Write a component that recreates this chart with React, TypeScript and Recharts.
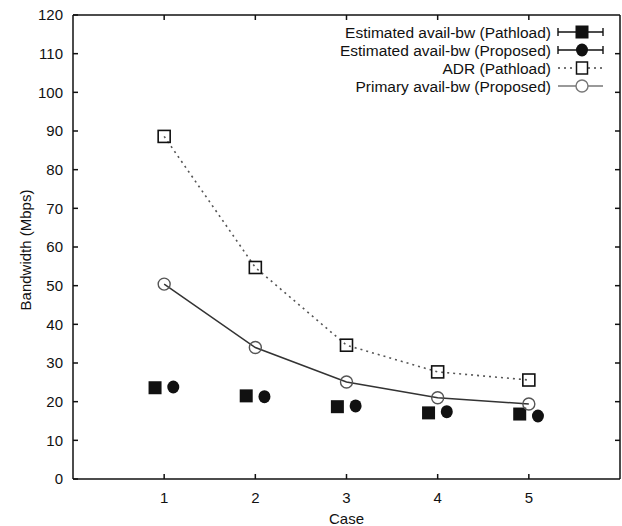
import { ComposedChart, Line, Scatter, XAxis, YAxis, Legend } from 'recharts';

// values
const cases = [1, 2, 3, 4, 5];
const pathloadEstimated = [23.6, 21.5, 18.7, 17.1, 16.8];
const proposedEstimated = [23.8, 21.3, 18.9, 17.4, 16.3];
const adrPathload = [88.6, 54.7, 34.6, 27.7, 25.6];
const primaryProposed = [50.4, 34.0, 25.1, 21.0, 19.4];

const xTicks = [1, 2, 3, 4, 5];
const yTicks = [0, 10, 20, 30, 40, 50, 60, 70, 80, 90, 100, 110, 120];
const xDomain = [0, 6];
const yDomain = [0, 120];
const legendNames = [
  'Estimated avail-bw (Pathload)',
  'Estimated avail-bw (Proposed)',
  'ADR (Pathload)',
  'Primary avail-bw (Proposed)',
];

// the two estimate series sit slightly left/right of each case
const SHIFT = 0.1;

const lineData = cases.map((c, i) => ({ x: c, adr: adrPathload[i], primary: primaryProposed[i] }));
const pathloadData = cases.map((c, i) => ({ x: c - SHIFT, y: pathloadEstimated[i] }));
const proposedData = cases.map((c, i) => ({ x: c + SHIFT, y: proposedEstimated[i] }));

const W = 622;
const H = 526;
const M = { top: 15, right: 2, bottom: 0, left: 0 };
const Y_AXIS_W = 73;
const X_AXIS_H = 47;
const PLOT_LEFT = M.left + Y_AXIS_W;
const PLOT_RIGHT = W - M.right;
const PLOT_TOP = M.top;
const PLOT_BOTTOM = H - M.bottom - X_AXIS_H;
const TICK = 5;

const FONT = '"Liberation Sans", Arial, sans-serif';
const INK = '#111';

const FilledSquare = (p: any) => (
  <rect x={p.cx - 6.5} y={p.cy - 6.5} width={13} height={13} fill={INK} />
);
const FilledCircle = (p: any) => <ellipse cx={p.cx} cy={p.cy} rx={6} ry={6.5} fill={INK} />;

const OpenSquare = (p: any) => (
  <rect key={`sq-${p.index}`} x={p.cx - 6} y={p.cy - 6} width={12} height={12} fill="none" stroke={INK} strokeWidth={1.6} />
);
const OpenCircle = (p: any) => (
  <circle key={`ci-${p.index}`} cx={p.cx} cy={p.cy} r={6} fill="none" stroke="#555" strokeWidth={1.4} />
);

// legend box plus the gnuplot-style closed border (top/right edges with mirrored inward ticks)
function KeyBox() {
  const rows = [32, 50, 68, 86];
  const tx = 551;
  const x1 = 558;
  const x2 = 603;
  const mx = 582;
  const sx = (v: number) => PLOT_LEFT + ((v - xDomain[0]) / (xDomain[1] - xDomain[0])) * (PLOT_RIGHT - PLOT_LEFT);
  const sy = (v: number) => PLOT_BOTTOM - ((v - yDomain[0]) / (yDomain[1] - yDomain[0])) * (PLOT_BOTTOM - PLOT_TOP);
  return (
    <svg width={W} height={H} style={{ display: 'block', pointerEvents: 'none' }}>
      <g stroke={INK} strokeWidth={1.5} fill="none">
        <line x1={PLOT_LEFT} x2={PLOT_RIGHT} y1={PLOT_TOP} y2={PLOT_TOP} />
        <line x1={PLOT_RIGHT} x2={PLOT_RIGHT} y1={PLOT_TOP} y2={PLOT_BOTTOM} />
        {xTicks.map((t) => (
          <line key={`tx-${t}`} x1={sx(t)} x2={sx(t)} y1={PLOT_TOP} y2={PLOT_TOP + TICK} />
        ))}
        {yTicks.slice(1, -1).map((t) => (
          <line key={`ty-${t}`} x1={PLOT_RIGHT - TICK} x2={PLOT_RIGHT} y1={sy(t)} y2={sy(t)} />
        ))}
      </g>
      {legendNames.map((name, i) => (
        <text key={name} x={tx} y={rows[i] + 5.5} textAnchor="end" fontSize={15.5} fontFamily={FONT} fill={INK}>
          {name}
        </text>
      ))}
      {[0, 1].map((i) => (
        <g key={`eb-${i}`} stroke={INK} strokeWidth={1.4}>
          <line x1={x1} x2={x2} y1={rows[i]} y2={rows[i]} />
          <line x1={x1} x2={x1} y1={rows[i] - 4} y2={rows[i] + 4} />
          <line x1={x2} x2={x2} y1={rows[i] - 4} y2={rows[i] + 4} />
        </g>
      ))}
      <rect x={mx - 6.5} y={rows[0] - 6.5} width={13} height={13} fill={INK} />
      <ellipse cx={mx} cy={rows[1]} rx={6} ry={6.5} fill={INK} />
      <line x1={x1} x2={x2} y1={rows[2]} y2={rows[2]} stroke="#444" strokeWidth={1.5} strokeDasharray="2 4" />
      <rect x={mx - 5.5} y={rows[2] - 6} width={11} height={12} fill="#fff" stroke={INK} strokeWidth={1.5} />
      <line x1={x1} x2={x2} y1={rows[3]} y2={rows[3]} stroke="#999" strokeWidth={1.8} />
      <circle cx={mx} cy={rows[3]} r={6} fill="#fff" stroke="#777" strokeWidth={1.4} />
    </svg>
  );
}

const tickStyle = { fontSize: 15, fontFamily: FONT, fill: INK };
const frameLine = { stroke: INK, strokeWidth: 1.5 };

export default function App() {
  return (
    <div style={{ position: 'absolute', left: 0, top: 0, width: W, height: H, background: '#fff' }}>
      <ComposedChart width={W} height={H} margin={M}>
        <XAxis
          type="number"
          dataKey="x"
          domain={xDomain}
          ticks={xTicks}
          interval={0}
          height={X_AXIS_H}
          tickSize={-TICK}
          tickMargin={18}
          tick={tickStyle}
          axisLine={frameLine}
          tickLine={frameLine}
          label={{ value: 'Case', position: 'insideBottom', offset: 2, fontSize: 15, fontFamily: FONT, fill: INK }}
        />
        <YAxis
          type="number"
          domain={yDomain}
          ticks={yTicks}
          interval={0}
          width={Y_AXIS_W}
          tickSize={-TICK}
          tickMargin={15}
          tick={tickStyle}
          axisLine={frameLine}
          tickLine={frameLine}
          label={{
            content: (p: any) => {
              const vb = p.viewBox || { x: 0, y: PLOT_TOP, width: Y_AXIS_W, height: PLOT_BOTTOM - PLOT_TOP };
              const cx = vb.x + 31;
              const cy = vb.y + vb.height / 2 + 3;
              return (
                <text x={cx} y={cy} transform={`rotate(-90 ${cx} ${cy})`} textAnchor="middle" fontSize={15} fontFamily={FONT} fill={INK}>
                  Bandwidth (Mbps)
                </text>
              );
            },
          }}
        />
        <Legend
          layout="vertical"
          verticalAlign="middle"
          align="center"
          wrapperStyle={{ top: 0, left: 0, width: W, height: H, pointerEvents: 'none' }}
          content={() => <KeyBox />}
        />
        <Line
          data={lineData}
          dataKey="adr"
          name={legendNames[2]}
          stroke="#555"
          strokeWidth={1.6}
          strokeDasharray="2 4"
          dot={OpenSquare}
          isAnimationActive={false}
        />
        <Line
          data={lineData}
          dataKey="primary"
          name={legendNames[3]}
          stroke="#333"
          strokeWidth={1.5}
          dot={OpenCircle}
          isAnimationActive={false}
        />
        <Scatter data={pathloadData} dataKey="y" name={legendNames[0]} shape={FilledSquare} isAnimationActive={false} />
        <Scatter data={proposedData} dataKey="y" name={legendNames[1]} shape={FilledCircle} isAnimationActive={false} />
      </ComposedChart>
    </div>
  );
}
